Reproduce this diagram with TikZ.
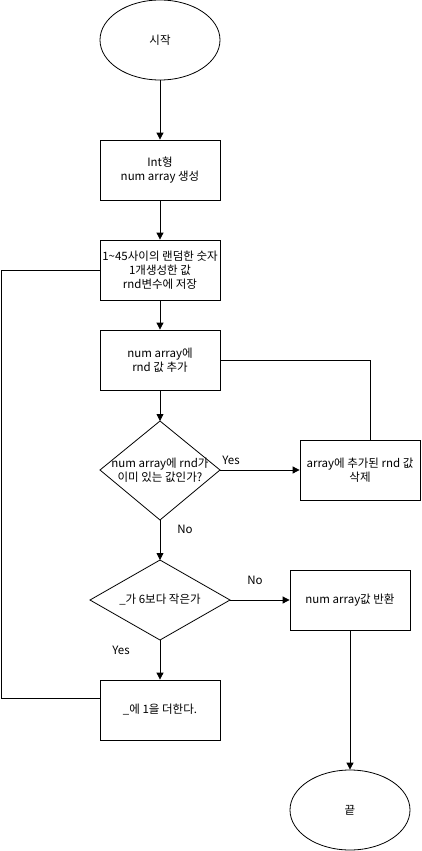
\documentclass[tikz,border=0pt]{standalone}
\usepackage{fontspec}
\setmainfont{Noto Sans CJK KR}
\usetikzlibrary{shapes.geometric,arrows.meta}
\begin{document}
\begin{tikzpicture}[x=1pt,y=-1pt,
  every node/.style={font=\fontsize{11.5}{14}\selectfont, align=center},
  proc/.style={draw, line width=0.8pt, minimum width=120pt, minimum height=60pt, inner sep=0pt},
  term/.style={draw, ellipse, line width=0.8pt, minimum width=120pt, minimum height=80pt},
  dec/.style={draw, line width=0.8pt, inner sep=0pt},
  flow/.style={line width=0.8pt, -{Triangle[length=7pt,width=7pt]}},
  link/.style={line width=0.8pt},
  lbl/.style={font=\fontsize{11.5}{14}\selectfont}]
\useasboundingbox (0,0) rectangle (421,851);
\node[term] (start) at (160,40) {시작};
\node[proc] (b1) at (160,170) {Int형\\num array 생성};
\node[proc] (b2) at (160,270) {1\textasciitilde45사이의 랜덤한 숫자\\1개생성한 값\\rnd변수에 저장};
\node[proc] (b3) at (160,360) {num array에\\rnd 값 추가};
\path[dec] (160,421) coordinate (d1t) -- (220,470) coordinate (d1r) -- (160,520) coordinate (d1b) -- (100,470) coordinate (d1l) -- cycle;
\node (d1) at (160,470) {num array에 rnd가\\이미 있는 값인가?};
\node[proc] (b4) at (360,470) {array에 추가된 rnd 값\\삭제};
\path[dec] (160,560) coordinate (d2t) -- (230,600) coordinate (d2r) -- (160,640) coordinate (d2b) -- (90,600) coordinate (d2l) -- cycle;
\node (d2) at (160,600) {\_가 6보다 작은가};
\node[proc] (b6) at (350,600) {num array값 반환};
\node[proc] (b5) at (160,710) {\_에 1을 더한다.};
\node[term] (end) at (350,810) {끝};
\coordinate (L1) at (1.5,270);
\coordinate (L2) at (1.5,698);
\coordinate (R1) at (370,360);
\draw[flow] (start) -- (b1);
\draw[flow] (b1) -- (b2);
\draw[flow] (b2) -- (b3);
\draw[flow] (b3) -- (d1t);
\draw[flow] (d1r) -- (b4.west |- d1r);
\draw[flow] (d1b) -- (d2t);
\draw[flow] (d2r) -- (b6.west |- d2r);
\draw[flow] (d2b) -- (b5);
\draw[flow] (b6) -- (end);
\draw[link] (b3.east) -- (R1) -- (R1 |- b4.north);
\draw[link] (b5.west |- L2) -- (L2) -- (L1) -- (b2.west);
\node[lbl] (yes1) at (231,460) {Yes};
\node[lbl] (no1) at (185,529) {No};
\node[lbl] (no2) at (255,580) {No};
\node[lbl] (yes2) at (121,650) {Yes};
\end{tikzpicture}
\end{document}
